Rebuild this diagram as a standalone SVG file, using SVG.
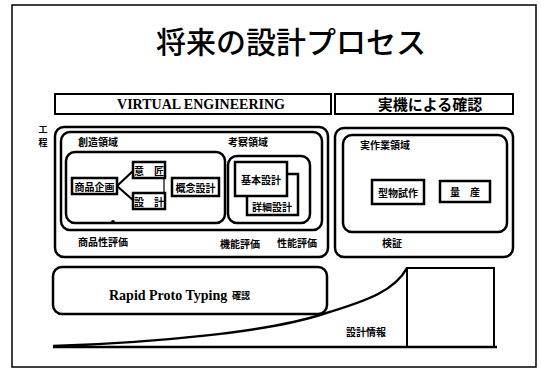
<svg xmlns="http://www.w3.org/2000/svg" width="541" height="371" viewBox="0 0 541 371">
<style>
.box{fill:#fff;stroke:#000;stroke-width:2.5}
.area{fill:none;stroke:#000;stroke-width:2.5}
.jp{font-family:"Noto Sans CJK JP","Noto Sans",sans-serif;font-weight:bold;fill:#000}
.lbl{font-size:10px}
.node{font-size:10px;text-anchor:middle;dominant-baseline:central}
.en{font-family:"Liberation Serif",serif;fill:#000}
</style>
<rect x="0" y="0" width="541" height="371" fill="#fff"/>
<rect x="12" y="5" width="524" height="362" fill="none" stroke="#000" stroke-width="1.5"/>
<text x="291" y="53" font-family="'Noto Sans CJK JP','Noto Sans',sans-serif" font-size="30" font-weight="500" text-anchor="middle">将来の設計プロセス</text>

<g id="header-ve">
<rect x="55" y="94" width="276" height="20" fill="#fff" stroke="#000" stroke-width="2"/>
<text class="en" x="201" y="109" font-size="14" font-weight="bold" text-anchor="middle">VIRTUAL ENGINEERING</text>
</g>
<g id="header-real">
<rect x="335" y="94" width="178" height="20" fill="#fff" stroke="#000" stroke-width="2"/>
<text class="jp" x="430" y="110" font-size="15" text-anchor="middle">実機による確認</text>
</g>

<g id="process-label">
<text class="jp" x="43" y="133" font-size="9" text-anchor="middle">工</text>
<text class="jp" x="43" y="146" font-size="9" text-anchor="middle">程</text>
</g>

<g id="ve-area">
<rect class="area" x="55" y="127" width="273" height="130" rx="9"/>
<rect class="area" x="61" y="132" width="261" height="98" rx="9"/>
<text class="jp lbl" x="78" y="146">創造領域</text>
<text class="jp lbl" x="228" y="146">考察領域</text>
<text class="jp lbl" x="78" y="246">商品性評価</text>
<text class="jp lbl" x="220" y="248">機能評価</text>
<text class="jp lbl" x="277" y="247">性能評価</text>
</g>

<g id="creative-domain">
<rect class="area" x="66" y="152" width="159" height="71" rx="9"/>
<circle cx="113" cy="222" r="2" fill="#000"/>
</g>
<g id="study-domain">
<rect class="area" x="228" y="156" width="82" height="67" rx="9"/>
</g>

<g id="connectors" fill="none" stroke="#000">
<path d="M117,186 L134,170 M117,186 L134,201" stroke-width="2.2"/>
<path d="M164,178 L164,193" stroke-width="1.2"/>
</g>

<g id="n-shohin">
<rect class="box" x="72" y="178" width="45" height="16"/>
<text class="jp node" x="94.5" y="186">商品企画</text>
</g>
<g id="n-isho">
<rect class="box" x="133" y="162" width="32" height="16"/>
<text class="jp node" x="149" y="170">意　匠</text>
</g>
<g id="n-sekkei">
<rect class="box" x="133" y="193" width="32" height="16"/>
<text class="jp node" x="149" y="201">設　計</text>
</g>
<g id="n-gainen">
<rect class="box" x="172" y="178" width="47" height="18"/>
<text class="jp node" x="195.5" y="187">概念設計</text>
</g>
<g id="n-shosai">
<rect class="box" x="247" y="174" width="51" height="41"/>
<text class="jp node" x="272" y="206">詳細設計</text>
</g>
<g id="n-kihon">
<rect class="box" x="235" y="162" width="52" height="34"/>
<text class="jp node" x="261" y="179">基本設計</text>
</g>

<g id="real-area">
<rect class="area" x="335" y="128" width="178" height="129" rx="9"/>
<rect class="area" x="343" y="135" width="164" height="97" rx="9"/>
<text class="jp lbl" x="360" y="149">実作業領域</text>
<text class="jp lbl" x="382" y="247">検証</text>
</g>
<g id="n-katamono">
<rect class="box" x="372" y="180" width="52" height="24"/>
<text class="jp node" x="398" y="192">型物試作</text>
</g>
<g id="n-ryosan">
<rect class="box" x="440" y="181" width="50" height="21"/>
<text class="jp node" x="465" y="191.5">量　産</text>
</g>

<g id="rapid">
<rect class="area" x="53" y="267" width="274" height="47" rx="9"/>
<text class="en" x="109" y="300" font-size="14" font-weight="bold">Rapid Proto Typing</text>
<text class="jp" x="232" y="299" font-size="9">確認</text>
</g>

<g id="design-info">
<path d="M53,346 C150,343 270,332 323,314 C370,300 395,290 407,268" fill="none" stroke="#000" stroke-width="2.5"/>
<path d="M53,347 L497,347" stroke="#000" stroke-width="2.5"/>
<rect x="407" y="268" width="87" height="79" fill="none" stroke="#000" stroke-width="2"/>
<text class="jp" x="346" y="336" font-size="10">設計情報</text>
</g>
</svg>
